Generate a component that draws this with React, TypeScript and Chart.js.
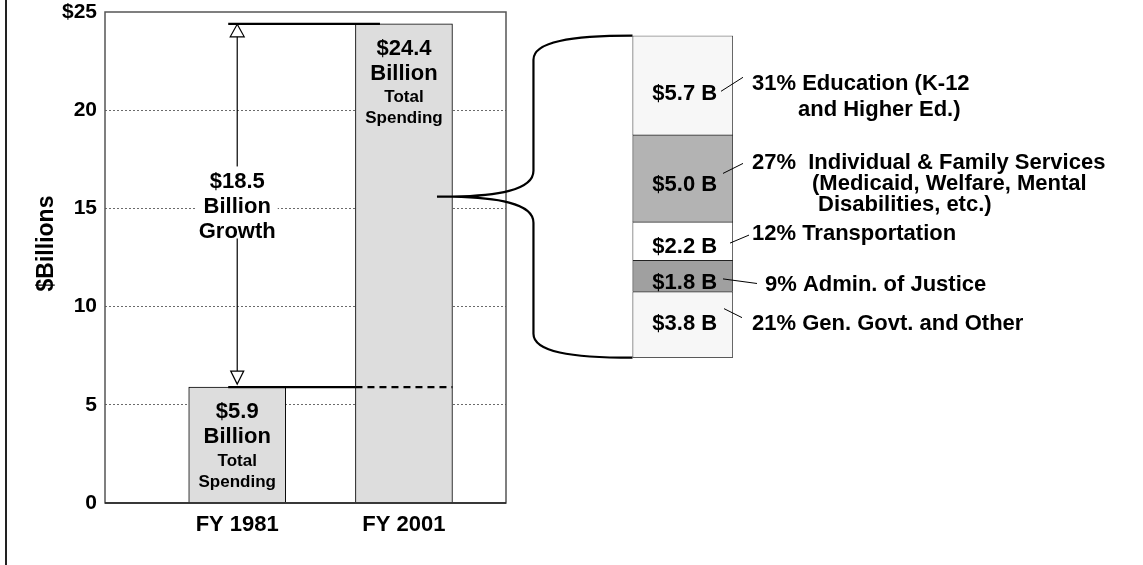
import React, { useEffect, useRef } from 'react';
import { Chart, registerables } from 'chart.js';

Chart.register(...registerables);

// ---------- data ----------
const categories = ['FY 1981', 'FY 2001'];
const categoryPositions = [1, 2];
const totalSpending = [5.9, 24.4];
const totalLabels = ['$5.9', '$24.4'];
const barCaption = ['Billion', 'Total', 'Spending'];
const growthLines = ['$18.5', 'Billion', 'Growth'];
const yTicks = [0, 5, 10, 15, 20, 25];
const yTickLabels = ['0', '5', '10', '15', '20', '$25'];
const yTitle = '$Billions';

// growth breakdown (top of stack first)
const segmentNames = ['Education', 'Individual & Family Services', 'Transportation', 'Admin. of Justice', 'Gen. Govt. and Other'];
const segmentValues = [5.7, 5.0, 2.2, 1.8, 3.8];
const segmentValueLabels = ['$5.7 B', '$5.0 B', '$2.2 B', '$1.8 B', '$3.8 B'];
const segmentDescriptions = [
  ['31% Education (K-12', 'and Higher Ed.)'],
  ['27%  Individual & Family Services', '(Medicaid, Welfare, Mental', 'Disabilities, etc.)'],
  ['12% Transportation'],
  ['9% Admin. of Justice'],
  ['21% Gen. Govt. and Other'],
];

// ---------- layout / style ----------
const W = 1143;
const H = 565;
const FONT = '"Liberation Sans", Arial, Helvetica, sans-serif';
const bold = (s: number) => `bold ${s}px ${FONT}`;
const MAIN = { left: 105, top: 12, right: 506, bottom: 503 };
const STACK = { left: 632.5, top: 35.7, right: 733, bottom: 357.7 };
const BAR_FILL = '#dddddd';
const SEG_COLORS = ['#f7f7f7', '#b3b3b3', '#ffffff', '#a0a0a0', '#f7f7f7'];
const BAR_TEXT_OFFSETS = [25, 50, 74, 95];
const BAR_TEXT_SIZES = [22, 22, 17, 17];
const SEG_LAYOUT = [
  { inDy: 9, descDx: 19, descDy: -1, gap: 26, indents: [0, 46], leader: [-12, -3, 10, -7] },
  { inDy: 7, descDx: 19, descDy: -15, gap: 20.7, indents: [0, 60, 66], leader: [-10, -12, 10, 0] },
  { inDy: 6, descDx: 19, descDy: -7, gap: 0, indents: [0], leader: [-3, -4, 16, 1] },
  { inDy: 7, descDx: 32, descDy: 8.6, gap: 0, indents: [0], leader: [-10, -4, 24, -1] },
  { inDy: -1, descDx: 19, descDy: -1, gap: 0, indents: [0], leader: [-9, -15, 9, -6] },
];

function line(ctx: CanvasRenderingContext2D, x1: number, y1: number, x2: number, y2: number) {
  ctx.beginPath();
  ctx.moveTo(x1, y1);
  ctx.lineTo(x2, y2);
  ctx.stroke();
}

function triangle(ctx: CanvasRenderingContext2D, x: number, apexY: number, baseY: number, w: number) {
  ctx.beginPath();
  ctx.moveTo(x, apexY);
  ctx.lineTo(x - w / 2, baseY);
  ctx.lineTo(x + w / 2, baseY);
  ctx.closePath();
  ctx.fillStyle = '#fff';
  ctx.fill();
  ctx.lineWidth = 1.2;
  ctx.strokeStyle = '#000';
  ctx.stroke();
}

const mainAnnotations = {
  id: 'mainAnnotations',
  afterDatasetsDraw(chart: any) {
    const { ctx, chartArea: a, scales } = chart;
    const xs = scales.x;
    const ys = scales.y;
    ctx.save();
    // plot frame
    ctx.strokeStyle = '#555';
    ctx.lineWidth = 1.5;
    ctx.strokeRect(a.left, a.top, a.right - a.left, a.bottom - a.top);
    ctx.strokeStyle = '#222';
    line(ctx, a.left, a.bottom, a.right, a.bottom);
    // outer frame edge
    ctx.fillStyle = '#222';
    ctx.fillRect(5, 0, 2, H);
    // y title
    ctx.save();
    ctx.translate(47, 243.5);
    ctx.rotate(-Math.PI / 2);
    ctx.font = bold(23);
    ctx.fillStyle = '#000';
    ctx.textAlign = 'center';
    ctx.textBaseline = 'middle';
    ctx.fillText(yTitle, 0, 0);
    ctx.restore();

    const x1 = xs.getPixelForValue(categoryPositions[0]);
    const x2 = xs.getPixelForValue(categoryPositions[1]);
    const yTop = ys.getPixelForValue(totalSpending[1]);
    const yBot = ys.getPixelForValue(totalSpending[0]);
    const half = 48.5;

    // reference lines
    ctx.strokeStyle = '#000';
    ctx.lineWidth = 2.2;
    line(ctx, x1 - 9, yTop, x2 - 24, yTop);
    line(ctx, x1 - 9, yBot, x2 - half, yBot);
    ctx.setLineDash([7, 5]);
    line(ctx, x2 - half, yBot, x2 + half, yBot);
    ctx.setLineDash([]);

    // growth arrow
    ctx.lineWidth = 1.2;
    line(ctx, x1, yTop + 12, x1, yBot - 14);
    triangle(ctx, x1, yTop + 0.5, yTop + 13, 14);
    triangle(ctx, x1, yBot - 3, yBot - 16, 13);

    const cy = (yTop + yBot) / 2;
    const offs = [-24, 1, 26];
    ctx.font = bold(22);
    let maxW = 0;
    growthLines.forEach((t) => { maxW = Math.max(maxW, ctx.measureText(t).width); });
    ctx.fillStyle = '#fff';
    ctx.fillRect(x1 - maxW / 2 - 2, cy - 39, maxW + 4, 72);
    ctx.fillStyle = '#000';
    ctx.textAlign = 'center';
    ctx.textBaseline = 'middle';
    growthLines.forEach((t, i) => ctx.fillText(t, x1, cy + offs[i]));

    // bar captions
    const meta = chart.getDatasetMeta(0);
    meta.data.forEach((bar: any, i: number) => {
      const lines = [totalLabels[i], ...barCaption];
      lines.forEach((t, k) => {
        ctx.font = bold(BAR_TEXT_SIZES[k]);
        ctx.fillText(t, bar.x, bar.y + BAR_TEXT_OFFSETS[k]);
      });
    });
    ctx.restore();
  },
};

export default function App() {
  const mainRef = useRef<HTMLCanvasElement>(null);
  const stackRef = useRef<HTMLCanvasElement>(null);

  useEffect(() => {
    const main = new Chart(mainRef.current as HTMLCanvasElement, {
      type: 'bar',
      data: {
        datasets: [
          {
            label: 'Total spending',
            data: categoryPositions.map((x, i) => ({ x, y: totalSpending[i] })),
            backgroundColor: BAR_FILL,
            borderColor: '#000',
            borderWidth: 1,
            barThickness: 97,
          } as any,
        ],
      },
      options: {
        responsive: false,
        animation: false,
        events: [],
        layout: { padding: { left: 0, top: MAIN.top, right: W - MAIN.right, bottom: 0 } },
        plugins: { legend: { display: false }, tooltip: { enabled: false } },
        scales: {
          x: {
            type: 'linear',
            offset: false,
            min: 0.207,
            max: 2.612,
            grid: { display: false, drawTicks: false },
            border: { display: false },
            afterBuildTicks: (s: any) => { s.ticks = categoryPositions.map((v) => ({ value: v })); },
            afterFit: (s: any) => { s.height = H - MAIN.bottom; s.paddingLeft = 0; s.paddingRight = 0; },
            ticks: {
              callback: (v: any) => categories[categoryPositions.indexOf(Number(v))] ?? '',
              font: { family: FONT, size: 22, weight: 'bold' },
              color: '#000',
              padding: 9,
              maxRotation: 0,
              autoSkip: false,
            },
          },
          y: {
            type: 'linear',
            min: 0,
            max: 25,
            afterBuildTicks: (s: any) => { s.ticks = yTicks.map((v) => ({ value: v })); },
            afterFit: (s: any) => { s.width = MAIN.left; s.paddingTop = 0; s.paddingBottom = 0; },
            grid: {
              color: (c: any) => (c.tick && (c.tick.value === 0 || c.tick.value === 25) ? 'rgba(0,0,0,0)' : '#6a6a6a'),
              lineWidth: 1,
              drawTicks: false,
            },
            border: { display: false, dash: [2, 2] },
            ticks: {
              callback: (v: any) => yTickLabels[yTicks.indexOf(Number(v))] ?? '',
              font: { family: FONT, size: 21, weight: 'bold' },
              color: '#000',
              padding: 8,
            },
          },
        },
      } as any,
      plugins: [mainAnnotations],
    });

    const order = segmentValues.map((_, i) => i).reverse(); // bottom first
    const total = segmentValues.reduce((s, v) => s + v, 0);

    const stackAnnotations = {
      id: 'stackAnnotations',
      afterDatasetsDraw(chart: any) {
        const { ctx, chartArea: a } = chart;
        ctx.save();
        ctx.fillStyle = '#000';
        ctx.strokeStyle = '#000';
        const cx = (a.left + a.right) / 2;
        order.forEach((segIdx, dsIdx) => {
          const bar = chart.getDatasetMeta(dsIdx).data[0];
          const center = (bar.y + bar.base) / 2;
          const L = SEG_LAYOUT[segIdx];
          const inY = center + L.inDy;
          const descY = center + L.descDy;
          ctx.font = bold(22);
          ctx.textAlign = 'center';
          ctx.textBaseline = 'middle';
          ctx.fillText(segmentValueLabels[segIdx], cx + 2, inY);
          ctx.textAlign = 'left';
          segmentDescriptions[segIdx].forEach((t, k) => {
            ctx.fillText(t, a.right + L.descDx + L.indents[k], descY + k * L.gap);
          });
          ctx.lineWidth = 1;
          line(ctx, a.right + L.leader[0], inY + L.leader[1], a.right + L.leader[2], descY + L.leader[3]);
        });

        // brace from the FY 2001 bar to the breakdown
        const xs = main.scales.x as any;
        const bx = xs.getPixelForValue(categoryPositions[1]);
        const stubX = bx + 33;
        const tipX = bx + 48.5;
        const mid = (a.top + a.bottom) / 2;
        const vx = tipX + 81;
        ctx.lineWidth = 2.2;
        ctx.beginPath();
        ctx.moveTo(stubX, mid);
        ctx.lineTo(tipX, mid);
        ctx.bezierCurveTo(tipX + 43, mid - 1, vx, mid - 6, vx, mid - 26);
        ctx.lineTo(vx, a.top + 24);
        ctx.bezierCurveTo(vx, a.top + 6, vx + 37, a.top, a.left, a.top);
        ctx.moveTo(tipX, mid);
        ctx.bezierCurveTo(tipX + 43, mid + 1, vx, mid + 6, vx, mid + 26);
        ctx.lineTo(vx, a.bottom - 24);
        ctx.bezierCurveTo(vx, a.bottom - 6, vx + 37, a.bottom, a.left, a.bottom);
        ctx.stroke();
        ctx.restore();
      },
    };

    const stack = new Chart(stackRef.current as HTMLCanvasElement, {
      type: 'bar',
      data: {
        labels: ['FY 1981–2001 growth'],
        datasets: order.map((segIdx, dsIdx) => ({
          label: segmentNames[segIdx],
          data: [segmentValues[segIdx]],
          backgroundColor: SEG_COLORS[segIdx],
          borderColor: '#222',
          borderWidth: 1,
          borderSkipped: dsIdx === 0 ? false : 'bottom',
          barPercentage: 1,
          categoryPercentage: 1,
        })) as any,
      },
      options: {
        responsive: false,
        animation: false,
        events: [],
        layout: {
          padding: { left: STACK.left, top: STACK.top, right: W - STACK.right, bottom: H - STACK.bottom },
        },
        plugins: { legend: { display: false }, tooltip: { enabled: false } },
        scales: {
          x: { display: false, stacked: true },
          y: { display: false, stacked: true, min: 0, max: total },
        },
      } as any,
      plugins: [stackAnnotations],
    });

    return () => {
      stack.destroy();
      main.destroy();
    };
  }, []);

  const canvasStyle: React.CSSProperties = { position: 'absolute', left: 0, top: 0, width: W, height: H };
  return (
    <div style={{ position: 'fixed', left: 0, top: 0, width: W, height: H, background: '#fff', overflow: 'hidden' }}>
      <canvas ref={mainRef} width={W} height={H} style={canvasStyle} />
      <canvas ref={stackRef} width={W} height={H} style={canvasStyle} />
    </div>
  );
}
